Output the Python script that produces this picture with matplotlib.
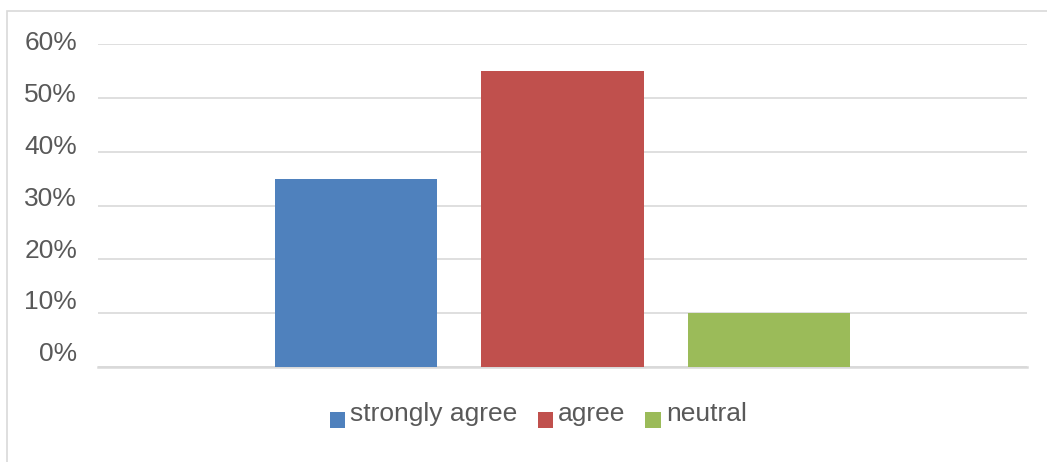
import matplotlib as mpl
mpl.use('Agg')
import matplotlib.pyplot as plt
from matplotlib.patches import Rectangle
from matplotlib.legend_handler import HandlerPatch
from matplotlib.transforms import ScaledTranslation

# survey answers, one cluster with three series
series = ['strongly agree', 'agree', 'neutral']
values = [0.35, 0.55, 0.10]
colors = ['#4F81BD', '#C0504D', '#9BBB59']
yticks = [0, 0.1, 0.2, 0.3, 0.4, 0.5, 0.6]
ylabels = ['0%', '10%', '20%', '30%', '40%', '50%', '60%']

plt.rcParams['font.family'] = ['Liberation Sans', 'DejaVu Sans']

fig = plt.figure(figsize=(10.47, 4.62), dpi=100)
ax = fig.add_axes([98/1047, 1-367/462, (1027-98)/1047, (367-44)/462])

# thin grey frame round the whole chart
fig.patches.append(Rectangle((7/1047, -0.1), 1.1, 1.1-11/462, transform=fig.transFigure,
                             fill=False, edgecolor='#d9d9d9', linewidth=1.2))

handles = []
for i, (name, v, c) in enumerate(zip(series, values, colors)):
    b = ax.bar(i, v, width=0.786, color=c, label=name, zorder=3)
    handles.append(b[0])

ax.set_xlim(-1.252, 3.252)
ax.set_ylim(0, 0.6)
ax.set_yticks(yticks)
ax.set_yticklabels(ylabels)
ax.set_xticks([])
ax.grid(axis='y', color='#d9d9d9', linewidth=1.2, zorder=0)
for s in ['top', 'right', 'left']:
    ax.spines[s].set_visible(False)
ax.spines['bottom'].set_color('#d9d9d9')
ax.spines['bottom'].set_linewidth(1.8)
ax.tick_params(axis='y', length=0, pad=15, labelsize=19, labelcolor='#595959')

# the labels sit a bit above their gridlines, more so lower down
for k, lab in enumerate(ax.get_yticklabels()):
    dy = (15.3 - 2.0*k) / 100
    lab.set_transform(lab.get_transform() + ScaledTranslation(0, dy, fig.dpi_scale_trans))

# legend squares sit low, near the text baseline
def low_square(legend, orig_handle, xdescent, ydescent, width, height, fontsize):
    return Rectangle((-xdescent, -ydescent - 6), width, height)

leg = ax.legend(handles, series, loc='center', bbox_to_anchor=(0.474, -0.145), ncol=3,
                frameon=False, fontsize=19, labelcolor='#595959',
                handlelength=0.58, handleheight=0.58,
                handletextpad=0.19, columnspacing=0.76,
                handler_map={Rectangle: HandlerPatch(patch_func=low_square)})

fig.savefig('out.png', dpi=100)
